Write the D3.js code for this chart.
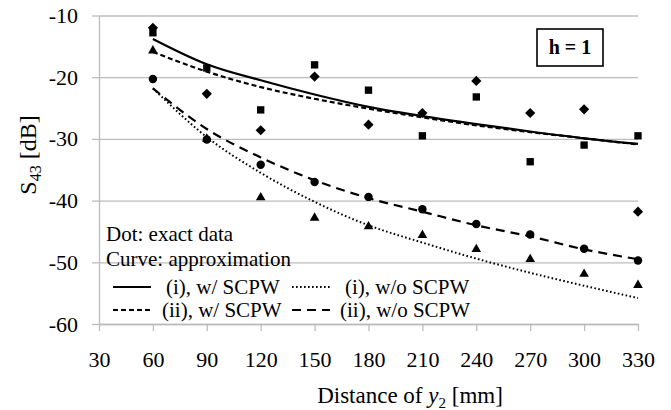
<!DOCTYPE html>
<html lang="en">
<head>
<meta charset="UTF-8">
<title>S43 vs distance of y2</title>
<style>
  body { margin: 0; background: #fff; }
  svg, text { font-family: "Liberation Serif", "Times New Roman", serif; }
  text { fill: #000; }
</style>
</head>
<body>
<div id="chart"></div>
<script src="https://d3js.org/d3.v7.min.js"></script>
<script>
    // Distance of y2 [mm] for every data point / curve node
    var distances = [60, 90, 120, 150, 180, 210, 240, 270, 300, 330];

    // Exact data (dots), S43 in dB
    var diamondVals  = [-12.0, -22.7, -28.6, -19.9, -27.7, -25.8, -20.6, -25.8, -25.2, -41.8];
    var squareVals   = [-12.8, -18.5, -25.3, -18.0, -22.1, -29.5, -23.2, -33.7, -31.0, -29.5];
    var circleVals   = [-20.3, -30.1, -34.2, -37.0, -39.4, -41.4, -43.8, -45.5, -47.8, -49.7];
    var triangleVals = [-15.7, -30.0, -39.5, -42.8, -44.2, -45.6, -47.9, -49.5, -51.9, -53.7];

    // Approximation curves
    var curveIw   = [-13.8, -17.9, -20.5, -22.8, -24.8, -26.3, -27.6, -28.8, -29.9, -30.8];
    var curveIIw  = [-15.9, -19.1, -21.6, -23.5, -25.1, -26.5, -27.8, -28.9, -29.9, -30.9];
    var curveIwo  = [-21.8, -29.7, -35.5, -40.2, -44.0, -46.8, -49.4, -51.7, -53.8, -55.8];
    var curveIIwo = [-21.8, -28.4, -33.0, -36.7, -39.6, -41.8, -44.0, -45.8, -47.9, -49.5];

    // Axis ticks
    var xTicks = [30, 60, 90, 120, 150, 180, 210, 240, 270, 300, 330];
    var yTicks = [-10, -20, -30, -40, -50, -60];

    var vp = {width: 671, height: 410};
    var plot = {left: 99, right: 638, top: 15.5, bottom: 324};
    var serif = '"Liberation Serif", "Times New Roman", serif';

    var svg = d3.select("#chart").append("svg")
        .attr("width", vp.width)
        .attr("height", vp.height)
        .attr("font-family", serif);

    var x = d3.scaleLinear().domain([30, 330]).range([plot.left, plot.right]);
    var y = d3.scaleLinear().domain([-60, -10]).range([plot.bottom, plot.top]);

    var gridColor = "#bcbcbc";

    // Horizontal gridlines
    svg.append("g")
        .attr("transform", "translate(" + plot.left + ",0)")
        .call(d3.axisLeft(y).tickValues(yTicks).tickSize(-(plot.right - plot.left)).tickFormat(""))
        .call(g => g.select(".domain").remove())
        .call(g => g.selectAll("line").attr("stroke", gridColor).attr("stroke-width", 1.3));

    // Y axis
    svg.append("g")
        .attr("transform", "translate(" + plot.left + ",0)")
        .call(d3.axisLeft(y).tickValues(yTicks).tickSize(7).tickPadding(14).tickSizeOuter(0)
            .tickFormat(d => String(d)))
        .attr("font-family", serif)
        .call(g => g.select(".domain").attr("stroke", gridColor).attr("stroke-width", 1.3))
        .call(g => g.selectAll("line").attr("stroke", gridColor).attr("stroke-width", 1.3))
        .call(g => g.selectAll("text").style("font-family", serif).style("font-size", "22px"));

    // X axis
    svg.append("g")
        .attr("transform", "translate(0," + plot.bottom + ")")
        .call(d3.axisBottom(x).tickValues(xTicks).tickSize(7).tickPadding(20).tickSizeOuter(0))
        .attr("font-family", serif)
        .call(g => g.select(".domain").attr("stroke", gridColor).attr("stroke-width", 1.3))
        .call(g => g.selectAll("line").attr("stroke", gridColor).attr("stroke-width", 1.3))
        .call(g => g.selectAll("text").style("font-family", serif).style("font-size", "22px"));

    // Curves
    var curves = [
        {vals: curveIw,   dash: null,  width: 2.2},
        {vals: curveIIw,  dash: "5,3", width: 2.2},
        {vals: curveIwo,  dash: "1.6,2.4", width: 2},
        {vals: curveIIwo, dash: "9,6", width: 2.2}
    ];

    var line = d3.line()
        .x((d, i) => x(distances[i]))
        .y(d => y(d))
        .curve(d3.curveMonotoneX);

    svg.append("g").selectAll("path")
        .data(curves)
        .enter()
        .append("path")
        .attr("d", d => line(d.vals))
        .attr("fill", "none")
        .attr("stroke", "#000")
        .attr("stroke-width", d => d.width)
        .attr("stroke-dasharray", d => d.dash);

    // Dots
    var dotSeries = [
        {vals: circleVals,   type: d3.symbolCircle,   size: 56, rot: 0},
        {vals: triangleVals, type: d3.symbolTriangle, size: 40, rot: 0},
        {vals: squareVals,   type: d3.symbolSquare,   size: 54, rot: 0},
        {vals: diamondVals,  type: d3.symbolSquare,   size: 52, rot: 45}
    ];

    dotSeries.forEach(function (s) {
        svg.append("g").selectAll("path")
            .data(s.vals)
            .enter()
            .append("path")
            .attr("d", d3.symbol().type(s.type).size(s.size))
            .attr("transform", (d, i) => "translate(" + x(distances[i]) + "," + y(d) + ") rotate(" + s.rot + ")")
            .attr("fill", "#000");
    });

    // Legend text
    var legend = svg.append("g").style("font-size", "21px").style("font-family", serif);
    legend.append("text").attr("x", 106).attr("y", 241).text("Dot: exact data");
    legend.append("text").attr("x", 106).attr("y", 266).text("Curve: approximation");

    var legendItems = [
        {label: "(i), w/ SCPW",   dash: null,  x1: 113, tx: 166, row: 0},
        {label: "(i), w/o SCPW",  dash: "1.6,2.4", x1: 292, tx: 345, row: 0},
        {label: "(ii), w/ SCPW",  dash: "5,3", x1: 113, tx: 162, row: 1},
        {label: "(ii), w/o SCPW", dash: "9,6", x1: 292, tx: 340, row: 1}
    ];
    var rowY = [287, 310];

    legendItems.forEach(function (d) {
        legend.append("line")
            .attr("x1", d.x1).attr("x2", d.x1 + 38)
            .attr("y1", rowY[d.row]).attr("y2", rowY[d.row])
            .attr("stroke", "#000").attr("stroke-width", 2.2)
            .attr("stroke-dasharray", d.dash);
        legend.append("text")
            .attr("x", d.tx).attr("y", rowY[d.row] + 7)
            .text(d.label);
    });

    // h = 1 box
    svg.append("rect")
        .attr("x", 537).attr("y", 29).attr("width", 66).attr("height", 37)
        .attr("fill", "#fff").attr("stroke", "#000").attr("stroke-width", 1.6);
    svg.append("text")
        .attr("x", 570).attr("y", 54)
        .attr("text-anchor", "middle")
        .style("font-family", serif)
        .style("font-size", "20px").style("font-weight", "bold")
        .text("h = 1");

    // Axis titles
    var yTitle = svg.append("text")
        .attr("transform", "translate(36,155) rotate(-90)")
        .attr("text-anchor", "middle")
        .style("font-family", serif)
        .style("font-size", "24px");
    yTitle.append("tspan").text("S");
    yTitle.append("tspan").attr("dy", 5).style("font-size", "16px").text("43");
    yTitle.append("tspan").attr("dy", -5).text(" [dB]");

    var xTitle = svg.append("text")
        .attr("x", 410).attr("y", 403)
        .attr("text-anchor", "middle")
        .style("font-family", serif)
        .style("font-size", "23px");
    xTitle.append("tspan").text("Distance of ");
    xTitle.append("tspan").style("font-style", "italic").text("y");
    xTitle.append("tspan").attr("dy", 5).style("font-size", "15px").text("2");
    xTitle.append("tspan").attr("dy", -5).text(" [mm]");
</script>
</body>
</html>
